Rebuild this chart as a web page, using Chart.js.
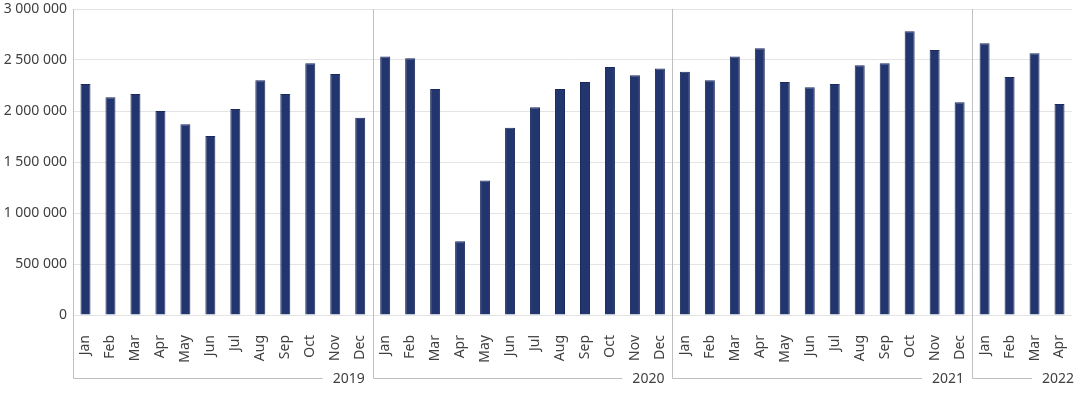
<!DOCTYPE html>
<html>
<head>
<meta charset="utf-8">
<script src="https://cdn.jsdelivr.net/npm/chart.js@4"></script>
<style>
  body { margin: 0; background: #fff; }
  #wrap { width: 1076px; height: 396px; position: relative; }
</style>
</head>
<body>
<div id="wrap"><canvas id="chart"></canvas></div>
<script>
// data
const months = ['Jan','Feb','Mar','Apr','May','Jun','Jul','Aug','Sep','Oct','Nov','Dec'];
const years = ['2019','2020','2021','2022'];
const values2019 = [2265000,2134000,2167000,2000000,1869000,1755000,2020000,2301000,2167000,2468000,2363000,1935000];
const values2020 = [2534000,2517000,2216000,724000,1319000,1836000,2036000,2216000,2285000,2432000,2350000,2416000];
const values2021 = [2386000,2301000,2534000,2615000,2285000,2232000,2265000,2448000,2468000,2782000,2599000,2085000];
const values2022 = [2664000,2334000,2566000,2069000];
const yTicks = [0,500000,1000000,1500000,2000000,2500000,3000000];

const series = [values2019, values2020, values2021, values2022];
const labels = [];
const values = [];
series.forEach(arr => {
  arr.forEach((v, i) => { labels.push(months[i]); values.push(v); });
});

const textColor = '#404040';
const fontFamily = '"Noto Sans", sans-serif';

// year dividers, brackets and year labels under the month labels
const yearGroups = {
  id: 'yearGroups',
  afterDraw(chart) {
    const ctx = chart.ctx;
    const x = chart.scales.x;
    const area = chart.chartArea;
    const half = (x.getPixelForValue(1) - x.getPixelForValue(0)) / 2;
    const lineY = 378.5;
    let start = 0;
    ctx.save();
    ctx.font = '14px ' + fontFamily;
    ctx.textBaseline = 'middle';
    ctx.textAlign = 'right';
    series.forEach((arr, g) => {
      const end = start + arr.length - 1;
      const x0 = Math.round(x.getPixelForValue(start) - half) + 0.5;
      let x1 = x.getPixelForValue(end) + half;
      const isLast = g === series.length - 1;
      const textRight = isLast ? chart.width - 2 : x1 - 8;
      const tw = ctx.measureText(years[g]).width;
      ctx.strokeStyle = '#bfbfbf';
      ctx.lineWidth = 1;
      ctx.beginPath();
      ctx.moveTo(x0, area.top);
      ctx.lineTo(x0, lineY);
      ctx.lineTo(textRight - tw - 10, lineY);
      ctx.stroke();
      ctx.fillStyle = textColor;
      ctx.fillText(years[g], textRight, lineY + 1);
      start = end + 1;
    });
    ctx.restore();
  }
};

new Chart(document.getElementById('chart'), {
  type: 'bar',
  data: {
    labels: labels,
    datasets: [{
      data: values,
      backgroundColor: '#22356e',
      borderColor: '#1a2a5c',
      borderWidth: 1,
      barPercentage: 0.8,
      categoryPercentage: 0.5
    }]
  },
  options: {
    responsive: true,
    maintainAspectRatio: false,
    animation: false,
    layout: { padding: { top: 9, right: 4, left: 0, bottom: 0 } },
    plugins: {
      legend: { display: false },
      tooltip: { enabled: false }
    },
    scales: {
      x: {
        grid: { display: false },
        border: { display: false },
        ticks: {
          color: textColor,
          font: { family: fontFamily, size: 14 },
          minRotation: 90,
          maxRotation: 90,
          autoSkip: false,
          padding: 12
        },
        afterFit(scale) {
          scale.height = 81;
          scale.paddingLeft = 0;
          scale.paddingRight = 0;
        }
      },
      y: {
        min: 0,
        max: 3000000,
        afterBuildTicks(scale) { scale.ticks = yTicks.map(v => ({ value: v })); },
        grid: { color: '#e4e4e4', drawTicks: false },
        border: { display: false },
        ticks: {
          color: textColor,
          font: { family: fontFamily, size: 14 },
          padding: 6,
          callback: v => v.toLocaleString('en-US').replace(/,/g, ' ')
        },
        afterFit(scale) {
          scale.width = 73;
          scale.paddingTop = 0;
          scale.paddingBottom = 0;
        }
      }
    }
  },
  plugins: [yearGroups]
});
</script>
</body>
</html>
